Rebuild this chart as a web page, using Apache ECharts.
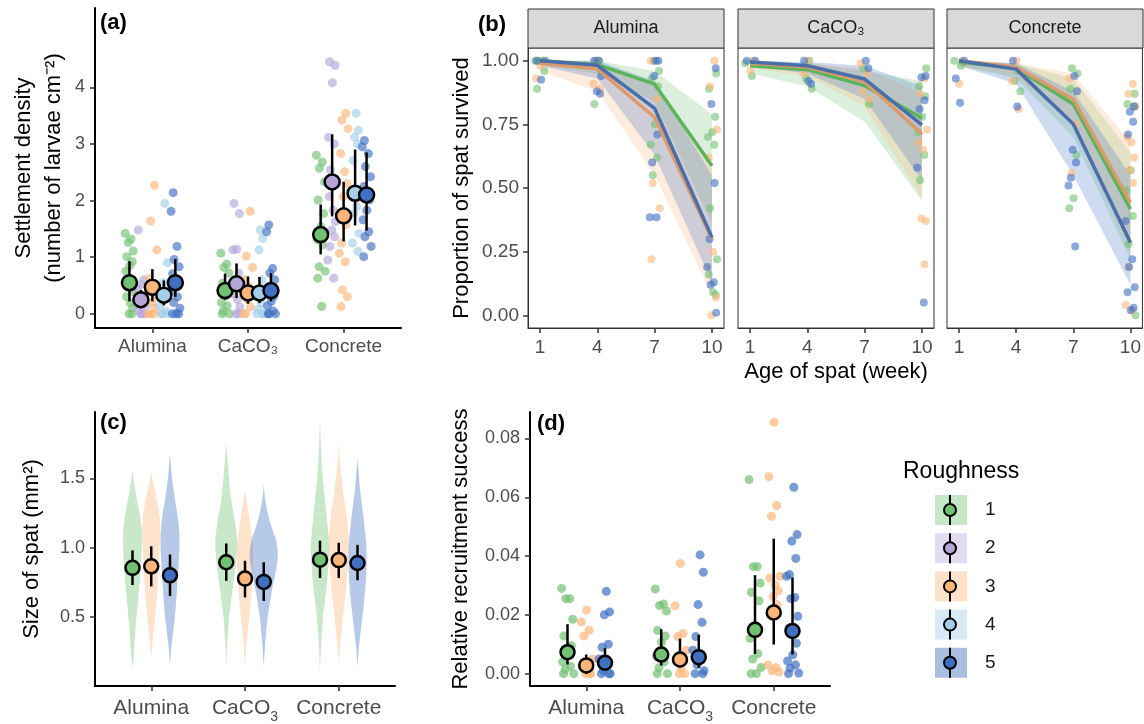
<!DOCTYPE html>
<html>
<head>
<meta charset="utf-8">
<script src="https://cdn.jsdelivr.net/npm/echarts@6/dist/echarts.min.js"></script>
<style>
  html, body { margin: 0; padding: 0; background: #fff; }
  #chart { width: 1144px; height: 724px; }
</style>
</head>
<body>
<div id="chart"></div>
<script>
// ---- data ----
const CATS = ['Alumina', 'CaCO₃', 'Concrete']
const GROUPS = ['1', '2', '3', '4', '5']
const WEEKS = [1, 4, 7, 10]

// (a) settlement density: jittered raw points [category][roughness]
const A_PTS = [
  [
    [1.42, 1.32, 1.26, 1.11, 1.01, 0.92, 0.85, 0.75, 0.60, 0.48, 0.39, 0.30, 0.19, 0.10, 0.0, 0.0],
    [1.48, 0.60, 0.52, 0.45, 0.32, 0.25, 0.14, 0.08, 0.0, 0.0, 0.0],
    [2.27, 1.64, 1.13, 0.62, 0.48, 0.35, 0.20, 0.10, 0.0, 0.0, 0.0],
    [1.95, 0.90, 0.55, 0.39, 0.28, 0.14, 0.05, 0.0, 0.0, 0.0],
    [2.14, 1.81, 1.19, 0.96, 0.83, 0.71, 0.60, 0.50, 0.40, 0.30, 0.20, 0.10, 0.0, 0.0, 0.0]
  ],
  [
    [1.07, 0.88, 0.82, 0.72, 0.54, 0.42, 0.31, 0.20, 0.14, 0.05, 0.0, 0.0],
    [1.95, 1.77, 1.14, 1.13, 0.72, 0.60, 0.48, 0.35, 0.25, 0.12, 0.0, 0.0],
    [1.81, 1.02, 0.82, 0.60, 0.48, 0.35, 0.25, 0.12, 0.0, 0.0],
    [1.48, 1.33, 1.13, 0.60, 0.42, 0.30, 0.19, 0.08, 0.0, 0.0, 0.0],
    [1.57, 1.45, 0.80, 0.72, 0.60, 0.48, 0.31, 0.22, 0.14, 0.05, 0.0, 0.0, 0.0]
  ],
  [
    [2.80, 2.68, 2.57, 2.33, 2.01, 1.77, 1.54, 1.31, 1.22, 0.83, 0.75, 0.63, 0.13],
    [4.45, 4.39, 4.08, 3.12, 3.00, 2.54, 2.30, 2.07, 1.83, 1.63, 1.48, 1.36, 1.19, 0.95, 0.63],
    [3.54, 3.42, 3.27, 2.83, 2.51, 2.30, 2.07, 1.57, 1.25, 1.07, 0.92, 0.42, 0.30, 0.13],
    [3.54, 3.24, 3.12, 3.00, 2.71, 2.18, 1.89, 1.77, 1.42, 1.25, 1.10],
    [3.06, 2.95, 2.83, 2.60, 2.42, 2.25, 2.01, 1.83, 1.66, 1.45, 1.36, 1.19, 1.01]
  ]
]
const A_MEAN = [[0.55, 0.25, 0.47, 0.33, 0.55], [0.41, 0.53, 0.37, 0.37, 0.41], [1.40, 2.33, 1.73, 2.13, 2.10]]
const A_LO = [[0.22, 0.10, 0.22, 0.15, 0.30], [0.25, 0.28, 0.18, 0.19, 0.22], [1.05, 1.72, 1.28, 1.56, 1.47]]
const A_HI = [[0.93, 0.42, 0.79, 0.59, 0.97], [0.71, 0.89, 0.66, 0.65, 0.72], [1.93, 3.17, 2.33, 2.90, 2.85]]

// (b) survival, roughness 1, 3, 5 only: [facet][group] per week
const B_GROUPS = [0, 2, 4]
const B_MEAN = [
  [[1.0, 0.985, 0.908, 0.587], [0.99, 0.968, 0.777, 0.30], [1.0, 0.982, 0.813, 0.306]],
  [[0.98, 0.965, 0.902, 0.775], [0.99, 0.975, 0.918, 0.712], [0.995, 0.98, 0.928, 0.748]],
  [[0.995, 0.97, 0.83, 0.417], [1.0, 0.975, 0.849, 0.443], [1.0, 0.967, 0.751, 0.286]]
]
const B_LO = [
  [[0.98, 0.95, 0.84, 0.36], [0.96, 0.88, 0.55, 0.08], [0.98, 0.93, 0.63, 0.13]],
  [[0.95, 0.90, 0.76, 0.45], [0.97, 0.94, 0.82, 0.46], [0.98, 0.95, 0.85, 0.53]],
  [[0.98, 0.93, 0.70, 0.22], [0.98, 0.94, 0.75, 0.25], [0.98, 0.91, 0.55, 0.12]]
]
const B_HI = [
  [[1.0, 1.0, 0.96, 0.79], [1.0, 0.99, 0.90, 0.58], [1.0, 1.0, 0.92, 0.55]],
  [[0.995, 0.99, 0.96, 0.92], [1.0, 0.99, 0.97, 0.87], [1.0, 0.995, 0.98, 0.90]],
  [[1.0, 0.99, 0.93, 0.64], [1.0, 0.99, 0.95, 0.68], [1.0, 0.99, 0.88, 0.55]]
]
const B_PTS = [
  [
    [[1.0, 1.0, 1.0, 0.96, 0.89], [1.0, 1.0, 0.96, 0.83], [1.0, 0.96, 0.93, 0.90, 0.75, 0.67, 0.62, 0.55], [0.95, 0.89, 0.78, 0.72, 0.70, 0.67, 0.42, 0.22, 0.16, 0.09, 0.08]],
    [[1.0, 0.98, 0.93], [1.0, 0.91, 0.89], [1.0, 0.85, 0.52, 0.42, 0.22], [1.0, 0.90, 0.73, 0.62, 0.25, 0.07, 0.0]],
    [[1.0, 1.0, 0.925], [1.0, 1.0, 0.94, 0.88, 0.87], [1.0, 1.0, 0.94, 0.71, 0.60, 0.385, 0.385], [0.97, 0.83, 0.52, 0.30, 0.19, 0.13, 0.12, 0.01]]
  ],
  [
    [[0.99, 0.94], [1.0, 0.93, 0.89], [0.97, 0.83], [0.97, 0.90, 0.86, 0.78, 0.72, 0.63, 0.53]],
    [[1.0, 0.96], [1.0, 0.95], [0.99, 0.95, 0.88, 0.85], [0.93, 0.87, 0.73, 0.68, 0.65, 0.37, 0.38, 0.20]],
    [[1.0, 1.0], [1.0, 0.92, 0.91], [1.0, 0.97], [0.94, 0.935, 0.845, 0.81, 0.58, 0.05]]
  ],
  [
    [[1.0, 0.98], [0.96, 0.92, 0.88], [0.97, 0.95, 0.89, 0.63, 0.46, 0.42], [0.87, 0.83, 0.82, 0.57, 0.49, 0.39, 0.28, 0.0]],
    [[1.0, 0.91], [1.0, 0.92, 0.81], [0.93, 0.75, 0.56], [0.91, 0.87, 0.82, 0.70, 0.68, 0.62, 0.57, 0.52, 0.19, 0.04, 0.02]],
    [[1.0, 0.93, 0.835], [1.0, 0.82], [0.94, 0.88, 0.65, 0.60, 0.54, 0.51, 0.27], [0.82, 0.80, 0.76, 0.71, 0.37, 0.22, 0.19, 0.11, 0.09, 0.03, 0.02]]
  ]
]

// (c) spat size: violin profiles [size, relative density] and mean +/- CI
const C_VIOLIN = [
  [
    [[0.13, 0], [0.2, 0.08], [0.4, 0.2], [0.6, 0.38], [0.8, 0.55], [0.95, 0.64], [1.1, 0.68], [1.25, 0.5], [1.4, 0.22], [1.5, 0.08], [1.55, 0]],
    [[0.2, 0], [0.35, 0.12], [0.5, 0.28], [0.7, 0.45], [0.9, 0.55], [1.1, 0.64], [1.2, 0.62], [1.35, 0.4], [1.45, 0.18], [1.55, 0]],
    [[0.15, 0], [0.3, 0.12], [0.5, 0.35], [0.7, 0.5], [0.9, 0.62], [1.05, 0.68], [1.2, 0.58], [1.35, 0.35], [1.5, 0.15], [1.68, 0]]
  ],
  [
    [[0.13, 0], [0.3, 0.06], [0.5, 0.2], [0.7, 0.45], [0.9, 0.7], [1.05, 0.78], [1.2, 0.6], [1.35, 0.35], [1.5, 0.2], [1.65, 0.08], [1.75, 0]],
    [[0.13, 0], [0.3, 0.1], [0.5, 0.3], [0.7, 0.48], [0.9, 0.57], [1.0, 0.57], [1.15, 0.4], [1.3, 0.18], [1.41, 0]],
    [[0.14, 0], [0.3, 0.1], [0.5, 0.28], [0.7, 0.6], [0.85, 0.9], [0.95, 1.0], [1.05, 0.88], [1.15, 0.55], [1.25, 0.28], [1.35, 0.1], [1.45, 0]]
  ],
  [
    [[0.1, 0], [0.3, 0.08], [0.5, 0.22], [0.7, 0.45], [0.9, 0.62], [1.0, 0.65], [1.15, 0.55], [1.35, 0.35], [1.55, 0.16], [1.75, 0.06], [1.92, 0]],
    [[0.15, 0], [0.3, 0.1], [0.5, 0.3], [0.7, 0.52], [0.9, 0.66], [1.05, 0.72], [1.2, 0.6], [1.4, 0.32], [1.6, 0.1], [1.75, 0]],
    [[0.14, 0], [0.3, 0.12], [0.5, 0.35], [0.7, 0.55], [0.9, 0.65], [1.05, 0.6], [1.2, 0.45], [1.4, 0.2], [1.55, 0.08], [1.64, 0]]
  ]
]
const C_MEAN = [[0.854, 0.865, 0.80], [0.894, 0.776, 0.752], [0.913, 0.91, 0.889]]
const C_LO = [[0.73, 0.72, 0.65], [0.76, 0.64, 0.615], [0.78, 0.78, 0.764]]
const C_HI = [[0.98, 1.01, 0.95], [1.03, 0.905, 0.894], [1.05, 1.035, 1.02]]

// (d) relative recruitment success
const D_PTS = [
  [
    [0.029, 0.0255, 0.0255, 0.0185, 0.0128, 0.0095, 0.0065, 0.004, 0.0025, 0.0015, 0.0, 0.0],
    [0.0216, 0.0176, 0.0148, 0.0128, 0.005, 0.003, 0.001, 0.0, 0.0, 0.0],
    [0.028, 0.021, 0.020, 0.010, 0.009, 0.005, 0.003, 0.001, 0.0, 0.0, 0.0]
  ],
  [
    [0.0288, 0.0237, 0.0232, 0.0213, 0.0147, 0.0128, 0.0107, 0.006, 0.004, 0.002, 0.0, 0.0],
    [0.0375, 0.0231, 0.0137, 0.0126, 0.008, 0.005, 0.002, 0.0, 0.0],
    [0.0404, 0.0345, 0.0235, 0.0175, 0.0126, 0.008, 0.006, 0.003, 0.001, 0.0, 0.0]
  ],
  [
    [0.066, 0.0364, 0.0364, 0.0308, 0.0277, 0.0248, 0.0165, 0.012, 0.0068, 0.005, 0.0021, 0.0, 0.0],
    [0.0855, 0.067, 0.0572, 0.0535, 0.0331, 0.0325, 0.0301, 0.0281, 0.0262, 0.0234, 0.0195, 0.003, 0.002, 0.001, 0.0005],
    [0.0634, 0.0473, 0.0451, 0.0392, 0.0337, 0.0331, 0.0259, 0.0255, 0.0195, 0.0155, 0.0103, 0.0064, 0.0043, 0.003, 0.0018, 0.0002, 0.0]
  ]
]
const D_MEAN = [[0.0073, 0.0028, 0.0037], [0.0065, 0.0048, 0.0056], [0.0149, 0.0208, 0.0145]]
const D_LO = [[0.0031, 0.0, 0.0009], [0.0028, 0.0020, 0.0020], [0.0067, 0.0099, 0.0065]]
const D_HI = [[0.0168, 0.0065, 0.0087], [0.0151, 0.0119, 0.0132], [0.0335, 0.0459, 0.0327]]

// ---- styling ----
const FONT = '"Liberation Sans", Arial, sans-serif'
const COLORS = ['#72c072', '#b6a6d8', '#fdb67a', '#a3cfe8', '#3f70c2']
const LINE_COLORS = ['#5cb35c', '#b6a6d8', '#dc9a6a', '#a3cfe8', '#4a6ea9']
const LEGEND_FILL = ['#c6e7c6', '#e3dcf0', '#fde2c9', '#d8eaf5', '#a9bfe2']
const DODGE5 = [-0.24, -0.12, 0, 0.12, 0.24]
const DODGE3 = [-0.2, 0, 0.2]
// fixed jitter pattern (fraction of jitter width)
const JIT = [-0.9, 0.35, -0.25, 0.8, -0.55, 0.6, 0.05, -0.75, 0.45, -0.35, 0.95, -0.6, 0.2, 0.7, -0.1, 0.5, -0.45]

const chart = echarts.init(document.getElementById('chart'))

const grids = [
  { left: 95, top: 8, width: 306, height: 320 },
  { left: 528, top: 48, width: 196, height: 280, show: true, borderColor: '#333', borderWidth: 1 },
  { left: 738, top: 48, width: 196, height: 280, show: true, borderColor: '#333', borderWidth: 1 },
  { left: 947, top: 48, width: 196, height: 280, show: true, borderColor: '#333', borderWidth: 1 },
  { left: 95, top: 412, width: 300, height: 280 },
  { left: 530, top: 412, width: 300, height: 278 }
]

const axisLineStyle = { show: true, onZero: false, lineStyle: { color: '#000', width: 2 } }
const subLabel = {
  c: { fontSize: 21, lineHeight: 32, fontFamily: FONT, color: '#4d4d4d' },
  sub: { fontSize: 14, lineHeight: 14, fontFamily: FONT, color: '#4d4d4d', padding: [18, 0, 0, 0] }
}

function ticks(values) {
  return { show: true, customValues: values, length: 5, lineStyle: { color: '#333', width: 1.5 } }
}

function catAxis(gridIndex, fontSize, useSub) {
  return {
    type: 'value', gridIndex, min: 0.4, max: 3.6,
    splitLine: { show: false },
    axisLine: axisLineStyle,
    axisTick: ticks([1, 2, 3]),
    axisLabel: {
      customValues: [1, 2, 3], margin: useSub ? 6 : 9, fontSize, fontFamily: FONT, color: '#4d4d4d',
      rich: useSub ? subLabel : undefined,
      formatter: (v) => {
        const name = CATS[Math.round(v) - 1]
        if (useSub && name === 'CaCO₃') return '{c|CaCO}{sub|3}'
        return useSub ? '{c|' + name + '}' : name
      }
    }
  }
}

function valAxis(gridIndex, min, max, values, digits, name, nameGap) {
  return {
    type: 'value', gridIndex, min, max,
    splitLine: { show: false },
    axisLine: axisLineStyle,
    axisTick: ticks(values),
    axisLabel: {
      customValues: values, margin: 10, fontSize: 18, fontFamily: FONT, color: '#4d4d4d',
      formatter: (v) => v.toFixed(digits)
    },
    name, nameLocation: 'middle', nameGap,
    nameTextStyle: { fontSize: 22, fontFamily: FONT, color: '#000', lineHeight: 30 }
  }
}

// facet x axes sit on the panel border
function weekAxis(gridIndex, extra) {
  return Object.assign({
    type: 'value', gridIndex, min: 0.37, max: 10.63,
    splitLine: { show: false },
    axisLine: { show: true, onZero: false, lineStyle: { color: '#333', width: 1 } },
    axisTick: ticks(WEEKS),
    axisLabel: { customValues: WEEKS, margin: 10, fontSize: 19, fontFamily: FONT, color: '#4d4d4d' }
  }, extra || {})
}

function facetY(gridIndex) {
  const values = [0, 0.25, 0.5, 0.75, 1]
  return {
    type: 'value', gridIndex, min: -0.05, max: 1.05, show: gridIndex === 1,
    splitLine: { show: false },
    axisLine: { show: true, onZero: false, lineStyle: { color: '#333', width: 1 } },
    axisTick: ticks(values),
    axisLabel: { customValues: values, margin: 9, fontSize: 19, fontFamily: FONT, color: '#4d4d4d', formatter: (v) => v.toFixed(2) },
    name: gridIndex === 1 ? 'Proportion of spat survived' : '', nameLocation: 'middle', nameGap: 55,
    nameTextStyle: { fontSize: 22, fontFamily: FONT, color: '#000' }
  }
}

const xAxis = [
  catAxis(0, 19, false),
  weekAxis(1),
  weekAxis(2, {
    name: 'Age of spat (week)', nameLocation: 'middle', nameGap: 33,
    nameTextStyle: { fontSize: 22, fontFamily: FONT, color: '#000' }
  }),
  weekAxis(3),
  catAxis(4, 21, true),
  catAxis(5, 21, true)
]

const yAxis = [
  valAxis(0, -0.25, 5.4, [0, 1, 2, 3, 4], 0, 'Settlement density\n(number of larvae cm⁻²)', 26),
  facetY(1),
  facetY(2),
  facetY(3),
  valAxis(4, 0, 1.98, [0.5, 1.0, 1.5], 1, 'Size of spat (mm²)', 48),
  valAxis(5, -0.0042, 0.089, [0, 0.02, 0.04, 0.06, 0.08], 2, 'Relative recruitment success', 54)
]

const series = []

function jitterSeries(axis, data, color, size, opacity) {
  series.push({
    type: 'scatter', xAxisIndex: axis, yAxisIndex: axis, z: 2, silent: true,
    symbolSize: size, itemStyle: { color, opacity }, data
  })
}

function errorBars(axis, rows, width) {
  series.push({
    type: 'custom', xAxisIndex: axis, yAxisIndex: axis, z: 3, silent: true,
    encode: { x: 0, y: [1, 2] },
    data: rows,
    renderItem: (params, api) => {
      const a = api.coord([api.value(0), api.value(1)])
      const b = api.coord([api.value(0), api.value(2)])
      return { type: 'line', shape: { x1: a[0], y1: a[1], x2: b[0], y2: b[1] }, style: { stroke: '#000', lineWidth: width } }
    }
  })
}

function meanPoints(axis, data, color, size) {
  series.push({
    type: 'scatter', xAxisIndex: axis, yAxisIndex: axis, z: 4, silent: true,
    symbolSize: size, data,
    itemStyle: { color, borderColor: '#000', borderWidth: 2.5, opacity: 1 }
  })
}

// ---- (a) ----
GROUPS.forEach((g, gi) => {
  const pts = []
  CATS.forEach((c, ci) => {
    A_PTS[ci][gi].forEach((v, k) => {
      pts.push([ci + 1 + DODGE5[gi] + JIT[(k + gi * 4) % JIT.length] * 0.05, v])
    })
  })
  jitterSeries(0, pts, COLORS[gi], 9, 0.65)
})
{
  const rows = []
  CATS.forEach((c, ci) => GROUPS.forEach((g, gi) => rows.push([ci + 1 + DODGE5[gi], A_LO[ci][gi], A_HI[ci][gi]])))
  errorBars(0, rows, 2.5)
}
GROUPS.forEach((g, gi) => {
  meanPoints(0, CATS.map((c, ci) => [ci + 1 + DODGE5[gi], A_MEAN[ci][gi]]), COLORS[gi], 15)
})

// ---- (b) ----
CATS.forEach((c, fi) => {
  const axis = fi + 1
  B_GROUPS.forEach((gi, bi) => {
    const lo = B_LO[fi][bi], hi = B_HI[fi][bi]
    series.push({
      type: 'custom', xAxisIndex: axis, yAxisIndex: axis, z: 1, silent: true,
      encode: { x: 0, y: [1, 2] },
      data: WEEKS.map((w, i) => [w, lo[i], hi[i]]),
      renderItem: (params, api) => {
        if (params.dataIndex !== 0) return { type: 'group', children: [] }
        const top = WEEKS.map((w, i) => api.coord([w, hi[i]]))
        const bot = WEEKS.map((w, i) => api.coord([w, lo[i]])).reverse()
        return { type: 'polygon', shape: { points: top.concat(bot) }, style: { fill: COLORS[gi], opacity: 0.25 } }
      }
    })
  })
  B_GROUPS.forEach((gi, bi) => {
    const pts = []
    WEEKS.forEach((w, wi) => {
      B_PTS[fi][bi][wi].forEach((v, k) => pts.push([w + JIT[(k + bi * 5 + wi) % JIT.length] * 0.28, v]))
    })
    jitterSeries(axis, pts, COLORS[gi], 8, 0.6)
  })
  B_GROUPS.forEach((gi, bi) => {
    series.push({
      type: 'line', xAxisIndex: axis, yAxisIndex: axis, z: 3, silent: true,
      symbol: 'none', data: WEEKS.map((w, i) => [w, B_MEAN[fi][bi][i]]),
      lineStyle: { color: LINE_COLORS[gi], width: 3.5 }
    })
  })
})

// ---- (c) ----
const VW = 0.15
CATS.forEach((c, ci) => {
  B_GROUPS.forEach((gi, bi) => {
    const xc = ci + 1 + DODGE3[bi]
    const prof = C_VIOLIN[ci][bi]
    series.push({
      type: 'custom', xAxisIndex: 4, yAxisIndex: 4, z: 1, silent: true,
      encode: { x: 0, y: 1 },
      data: prof.map(([y, d]) => [xc, y, d]),
      renderItem: (params, api) => {
        if (params.dataIndex !== 0) return { type: 'group', children: [] }
        const right = prof.map(([y, d]) => api.coord([xc + d * VW, y]))
        const left = prof.slice().reverse().map(([y, d]) => api.coord([xc - d * VW, y]))
        return { type: 'polygon', shape: { points: right.concat(left), smooth: 0.25 }, style: { fill: COLORS[gi], opacity: 0.38 } }
      }
    })
  })
})
{
  const rows = []
  CATS.forEach((c, ci) => B_GROUPS.forEach((gi, bi) => rows.push([ci + 1 + DODGE3[bi], C_LO[ci][bi], C_HI[ci][bi]])))
  errorBars(4, rows, 2.5)
}
B_GROUPS.forEach((gi, bi) => {
  meanPoints(4, CATS.map((c, ci) => [ci + 1 + DODGE3[bi], C_MEAN[ci][bi]]), COLORS[gi], 14)
})

// ---- (d) ----
B_GROUPS.forEach((gi, bi) => {
  const pts = []
  CATS.forEach((c, ci) => {
    D_PTS[ci][bi].forEach((v, k) => pts.push([ci + 1 + DODGE3[bi] + JIT[(k + bi * 6) % JIT.length] * 0.07, v]))
  })
  jitterSeries(5, pts, COLORS[gi], 9, 0.7)
})
{
  const rows = []
  CATS.forEach((c, ci) => B_GROUPS.forEach((gi, bi) => rows.push([ci + 1 + DODGE3[bi], D_LO[ci][bi], D_HI[ci][bi]])))
  errorBars(5, rows, 2.5)
}
B_GROUPS.forEach((gi, bi) => {
  meanPoints(5, CATS.map((c, ci) => [ci + 1 + DODGE3[bi], D_MEAN[ci][bi]]), COLORS[gi], 14)
})

// ---- decorations: panel tags, facet strips, legend ----
const graphic = []
const tags = [['(a)', 100, 12], ['(b)', 478, 14], ['(c)', 100, 412], ['(d)', 537, 413]]
tags.forEach(([t, x, y]) => graphic.push({
  type: 'text', left: x, top: y, z: 10,
  style: { text: t, font: 'bold 22px ' + FONT, fill: '#000' }
}))
CATS.forEach((c, fi) => {
  const g = grids[fi + 1]
  graphic.push({
    type: 'rect', shape: { x: g.left, y: 9, width: g.width, height: 39 }, z: 5,
    style: { fill: '#d9d9d9', stroke: '#333', lineWidth: 1 }
  })
  graphic.push({
    type: 'text', x: g.left + g.width / 2, y: 28.5, z: 6,
    style: { text: c, font: '18px ' + FONT, fill: '#1a1a1a', textAlign: 'center', textVerticalAlign: 'middle' }
  })
})
graphic.push({
  type: 'text', left: 903, top: 460, z: 10,
  style: { text: 'Roughness', font: '23px ' + FONT, fill: '#000' }
})
GROUPS.forEach((g, gi) => {
  const y0 = 495 + gi * 38.2
  graphic.push({ type: 'rect', shape: { x: 935, y: y0, width: 32, height: 30 }, style: { fill: LEGEND_FILL[gi] } })
  graphic.push({ type: 'line', shape: { x1: 950, y1: y0, x2: 950, y2: y0 + 30 }, style: { stroke: '#000', lineWidth: 2 } })
  graphic.push({ type: 'circle', shape: { cx: 950, cy: y0 + 15, r: 6 }, style: { fill: COLORS[gi], stroke: '#000', lineWidth: 2 } })
  graphic.push({
    type: 'text', x: 985, y: y0 + 15,
    style: { text: g, font: '19px ' + FONT, fill: '#1a1a1a', textVerticalAlign: 'middle' }
  })
})

chart.setOption({
  animation: false,
  backgroundColor: '#fff',
  textStyle: { fontFamily: FONT },
  grid: grids,
  xAxis,
  yAxis,
  series,
  graphic
})
</script>
</body>
</html>
